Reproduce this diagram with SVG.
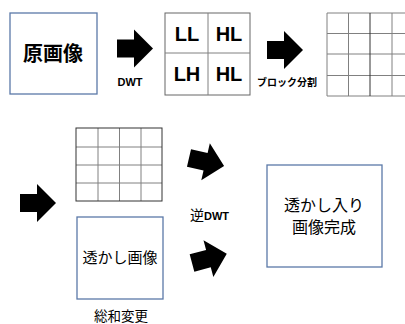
<svg xmlns="http://www.w3.org/2000/svg" width="405" height="324" viewBox="0 0 405 324">
<style>
.box{fill:#fff;stroke:#5b79a8;stroke-width:1.3}
.jp{font-family:"Noto Sans CJK JP","Noto Sans CJK SC",sans-serif;fill:#000;text-anchor:middle}
.lat{font-family:"Liberation Sans",Arial,sans-serif;font-weight:bold;fill:#000;text-anchor:middle}
.g{stroke:#808080;stroke-width:1;fill:none}
.gd{stroke:#333;stroke-width:1;fill:none}
.arr{fill:#000}
</style>
<defs>
<path id="arrow" d="M0,-9 H17 V-19 L36,0 L17,19 V9 H0 Z"/>
</defs>
<rect width="405" height="324" fill="#fff"/>
<g id="original">
<rect class="box" x="10" y="13" width="87" height="81"/>
<text class="jp" x="53" y="61" font-size="20" font-weight="bold">原画像</text>
</g>
<g id="dwt-bands">
<rect x="165" y="13" width="85" height="82" fill="#fff" stroke="#666" stroke-width="1"/>
<line class="g" x1="208" y1="13" x2="208" y2="95"/>
<line class="g" x1="165" y1="53" x2="250" y2="53"/>
<text class="lat" x="187" y="41" font-size="20">LL</text>
<text class="lat" x="229" y="41" font-size="20">HL</text>
<text class="lat" x="187" y="81" font-size="20">LH</text>
<text class="lat" x="229" y="81" font-size="20">HL</text>
</g>
<g id="blocks1">
<path class="g" d="M327,13 V96 M348.5,13 V96 M392,13 V96 M327,13 H405 M327,33.5 H405 M327,54 H405 M327,75.5 H405 M327,96 H405"/>
<line class="gd" x1="370" y1="13" x2="370" y2="96"/>
</g>
<g id="blocks2">
<path class="g" d="M98,128 V201 M119.5,128 V201 M141,128 V201 M76,147 H162 M76,165 H162 M76,183 H162"/>
<rect class="gd" x="76" y="128" width="86" height="73"/>
</g>
<g id="watermark">
<rect class="box" x="77" y="217" width="86" height="82"/>
<text class="jp" x="120" y="263" font-size="15">透かし画像</text>
</g>
<g id="result">
<rect class="box" x="267" y="165" width="115" height="102" stroke="#8a9bb8"/>
<text class="jp" x="324" y="211" font-size="16">透かし入り</text>
<text class="jp" x="324" y="233" font-size="16">画像完成</text>
</g>
<g id="connectors">
<use href="#arrow" class="arr" transform="translate(117,48.5)"/>
<use href="#arrow" class="arr" transform="translate(267,50)"/>
<use href="#arrow" class="arr" transform="translate(20,203)"/>
<use href="#arrow" class="arr" transform="translate(189,158) rotate(13)"/>
<use href="#arrow" class="arr" transform="translate(192,263) rotate(-15)"/>
<text class="lat" x="130" y="86" font-size="11">DWT</text>
<text class="jp" x="287" y="86" font-size="10" font-weight="bold">ブロック分割</text>
<text x="190" y="220"><tspan font-family="Noto Sans CJK JP, sans-serif" font-size="14">逆</tspan><tspan font-family="Liberation Sans, Arial, sans-serif" font-weight="bold" font-size="11">DWT</tspan></text>
<text class="jp" x="121" y="321" font-size="13.5">総和変更</text>
</g>
</svg>
